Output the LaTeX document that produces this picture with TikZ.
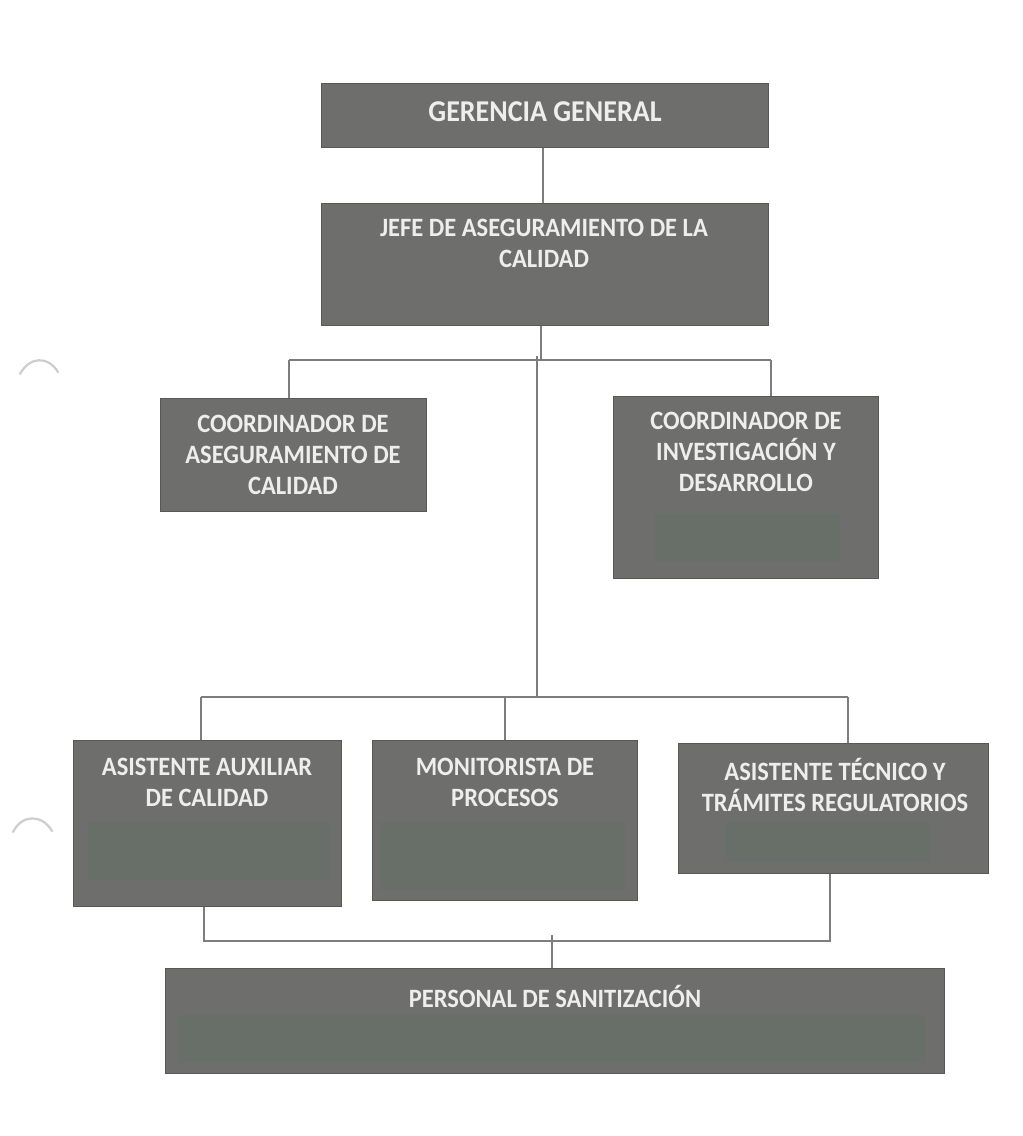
\documentclass[tikz,border=0pt]{standalone}
\usepackage{fontspec}
\setmainfont{Carlito}
\definecolor{boxfill}{RGB}{110,110,108}
\definecolor{boxedge}{RGB}{88,88,86}
\definecolor{innerfill}{RGB}{104,110,104}
\definecolor{linecol}{RGB}{125,125,125}
\definecolor{txtcol}{RGB}{238,238,236}
\definecolor{holecol}{RGB}{205,205,205}
\tikzset{
  box/.style={draw=boxedge, line width=1.2pt, fill=boxfill, rectangle, inner sep=0pt},
  txt/.style={text=txtcol, font=\fontsize{24.5}{28.8}\selectfont\bfseries, align=center, inner sep=0pt, yscale=1.08},
  bigtxt/.style={txt, font=\fontsize{28}{31}\selectfont\bfseries},
  inner/.style={fill=innerfill},
  conn/.style={draw=linecol, line width=1.2pt},
  hole/.style={draw=holecol, line width=2.2pt, line cap=round}
}
\begin{document}
\begin{tikzpicture}[x=1pt,y=-1pt]
\useasboundingbox[fill=white] (0,0) rectangle (1023,1136);

% boxes (corner to corner)
\node[box, minimum width=447pt, minimum height=64pt, anchor=north west] (gg) at (321,83) {};
\node[box, minimum width=447pt, minimum height=122pt, anchor=north west] (jefe) at (321,203) {};
\node[box, minimum width=266pt, minimum height=113pt, anchor=north west] (cac) at (160,398) {};
\node[box, minimum width=265pt, minimum height=182pt, anchor=north west] (cid) at (613,396) {};
\node[box, minimum width=268pt, minimum height=166pt, anchor=north west] (aux) at (73,740) {};
\node[box, minimum width=265pt, minimum height=160pt, anchor=north west] (mon) at (372,740) {};
\node[box, minimum width=310pt, minimum height=130pt, anchor=north west] (tec) at (678,743) {};
\node[box, minimum width=779pt, minimum height=105pt, anchor=north west] (san) at (165,968) {};

% inner blank blocks
\fill[inner] (655,513) rectangle (840,561);
\fill[inner] (88,822) rectangle (330,880);
\fill[inner] (380,822) rectangle (625,890);
\fill[inner] (725,822) rectangle (930,862);
\fill[inner] (178,1015) rectangle (925,1063);

% texts
\node[bigtxt] (tgg) at (545,112) {GERENCIA GENERAL};
\node[txt] (tjefe) at (544,243) {JEFE DE ASEGURAMIENTO DE LA\\CALIDAD};
\node[txt] (tcac) at (293,455) {COORDINADOR DE\\ASEGURAMIENTO DE\\CALIDAD};
\node[txt] (tcid) at (746,452) {COORDINADOR DE\\INVESTIGACIÓN Y\\DESARROLLO};
\node[txt] (taux) at (207,782) {ASISTENTE AUXILIAR\\DE CALIDAD};
\node[txt] (tmon) at (505,782) {MONITORISTA DE\\PROCESOS};
\node[txt] (ttec) at (835,785) {ASISTENTE TÉCNICO Y\\TRÁMITES REGULATORIOS};
\node[txt] (tsan) at (555,996) {PERSONAL DE SANITIZACIÓN};

% connectors
\coordinate (j1) at (541,360);
\coordinate (hl) at (289,360);
\coordinate (hr) at (771,360);
\coordinate (m1) at (537,697);
\coordinate (ml) at (201,697);
\coordinate (mr) at (848,697);
\coordinate (b1) at (552,941);
\coordinate (bl) at (204,941);
\coordinate (br) at (830,941);

\draw[conn] (gg.south -| 543,0) -- (jefe.north -| 543,0);
\draw[conn] (jefe.south -| j1) -- (j1);
\draw[conn] (hl) -- (hr);
\draw[conn] (hl) -- (cac.north -| hl);
\draw[conn] (hr) -- (cid.north -| hr);
\draw[conn] (537,356) -- (m1);
\draw[conn] (ml) -- (mr);
\draw[conn] (ml) -- (aux.north -| ml);
\draw[conn] (505,697) -- (mon.north -| 505,0);
\draw[conn] (mr) -- (tec.north -| mr);
\draw[conn] (aux.south -| bl) -- (bl) -- (br) -- (tec.south -| br);
\draw[conn] (552,935) -- (san.north -| b1);

% punch holes
\draw[hole] (20,374) .. controls (30,356) and (48,356) .. (58,372);
\draw[hole] (13,832) .. controls (22,814) and (42,814) .. (52,831);
\end{tikzpicture}
\end{document}
